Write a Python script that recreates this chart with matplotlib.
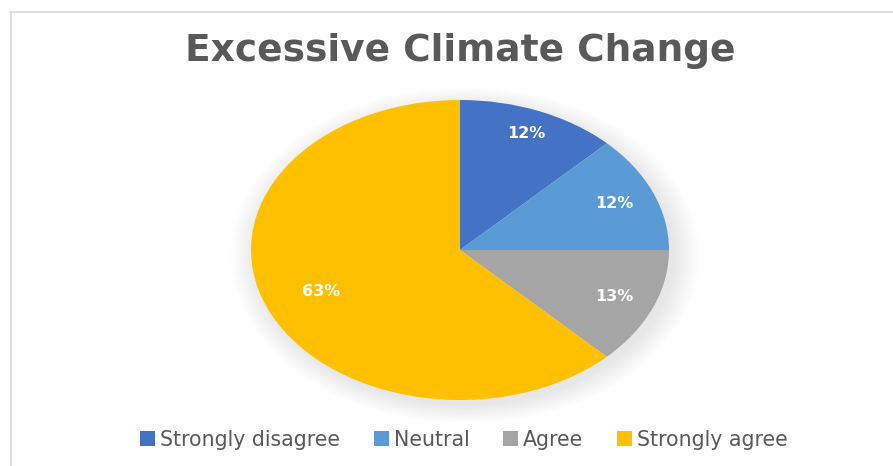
import matplotlib
matplotlib.use("Agg")
import matplotlib.pyplot as plt
from matplotlib.patches import Ellipse, Patch
from matplotlib.lines import Line2D

categories = ["Strongly disagree", "Neutral", "Agree", "Strongly agree"]
values = [12.4, 12.6, 12.6, 62.4]
labels_pct = ["12%", "12%", "13%", "63%"]
colors = ["#4472C4", "#5B9BD5", "#A5A5A5", "#FFC000"]
title = "Excessive Climate Change"

W, H = 893, 466
fig = plt.figure(figsize=(W / 100, H / 100), dpi=100)
fig.patch.set_facecolor("white")

# chart frame lines
fig.add_artist(Line2D([10 / W, 1], [1 - 12 / H, 1 - 12 / H], color="#d9d9d9", lw=1.2))
fig.add_artist(Line2D([11 / W, 11 / W], [0, 1 - 12 / H], color="#d9d9d9", lw=1.2))

cx, cy, rx, ry = 460, 250, 209, 150
ax = fig.add_axes([(cx - rx) / W, (H - cy - ry) / H, 2 * rx / W, 2 * ry / H])

# soft shadow
for i in range(12):
    s = 1.0 + 0.011 * i
    ax.add_patch(Ellipse((0.025, -0.035), 2 * s, 2 * s, facecolor="black",
                         edgecolor="none", alpha=0.008, zorder=0, clip_on=False))

wedges, texts = ax.pie(values, colors=colors, startangle=90, counterclock=False,
                       labels=labels_pct, labeldistance=0.8,
                       wedgeprops=dict(linewidth=0, zorder=2),
                       textprops=dict(color="white", fontsize=11.5, fontweight="bold",
                                      family="DejaVu Sans"))
label_scale = [1.05, 1.0, 1.0, 0.9]
for w in wedges:
    w.set_zorder(2)
for t, k in zip(texts, label_scale):
    x, y = t.get_position()
    t.set_position((x * k, y * k))
    t.set_ha("center")
    t.set_va("center")
    t.set_zorder(3)
ax.set_xlim(-1, 1)
ax.set_ylim(-1, 1)
ax.set_aspect("auto")
ax.axis("off")

fig.text(460 / W, 1 - 51 / H, title, ha="center", va="center", fontsize=27,
         fontweight="bold", color="#595959", family="DejaVu Sans")

handles = [Patch(facecolor=c, edgecolor="none") for c in colors]
fig.legend(handles, categories, loc="center", bbox_to_anchor=(464 / W, 1 - 440 / H),
           ncol=4, frameon=False, handlelength=0.72, handleheight=0.72,
           handletextpad=0.25, columnspacing=1.65,
           prop=dict(family="DejaVu Sans", size=14.8), labelcolor="#595959")

fig.savefig("out.png", dpi=100)
